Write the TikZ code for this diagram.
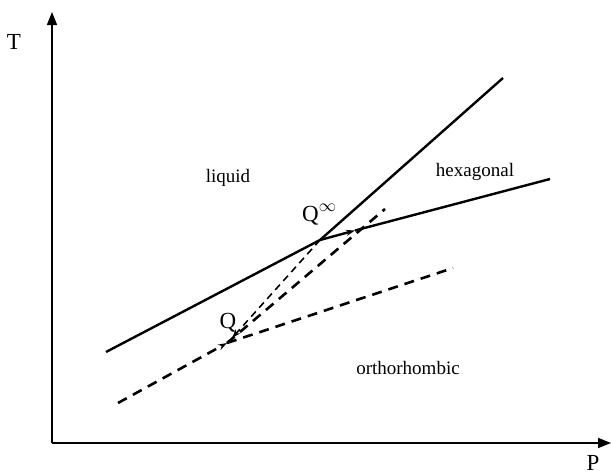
\documentclass[tikz,border=0pt]{standalone}
\usepackage{fontspec}
\setmainfont{Liberation Serif}
\usetikzlibrary{arrows.meta}
\begin{document}
\begin{tikzpicture}[x=1pt,y=-1pt,
  solidline/.style={line width=2.4pt},
  thickdash/.style={line width=2.6pt, dash pattern=on 10pt off 7pt},
  thindash/.style={line width=1.6pt, dash pattern=on 7pt off 5pt},
  axis/.style={line width=1.6pt,-{Triangle[length=13pt,width=10pt]}},
  lbl/.style={font=\fontsize{19}{22}\selectfont, inner sep=0pt},
  big/.style={font=\fontsize{23}{26}\selectfont, inner sep=0pt},
  smalltip/.style={-{Stealth[length=9pt,width=6pt]}}]
\useasboundingbox (0,0) rectangle (611,474);
% axes
\coordinate (O) at (52,443);
\coordinate (Ytop) at (52,12);
\coordinate (Xend) at (611,443);
\draw[axis] (O) -- (Ytop);
\draw[axis] (O) -- (Xend);
\node[big] (T) at (14,42) {T};
\node[big] (P) at (593,463) {P};
% key points
\coordinate (Qinf) at (320,240);
\coordinate (Q) at (227,343);
\coordinate (Lstart) at (106,352);
\coordinate (Steep) at (503,78);
\coordinate (H1) at (355,230.5);
\coordinate (Hend) at (550,179);
\coordinate (Dstart) at (118,403);
\coordinate (Dup) at (385,209);
\coordinate (Dright) at (453,268);
\coordinate (Tend) at (232,338);
% solid lines
\draw[solidline] (Lstart) -- (Qinf) -- (Steep);
\draw[solidline,smalltip] (Qinf) -- (H1);
\draw[solidline] (H1) -- (Hend);
% dashed lines
\draw[thickdash,smalltip] (Dstart) -- (Q);
\draw[thickdash] (Q) -- (Dup);
\draw[thickdash] (Q) -- (Dright);
\draw[thindash,smalltip] (Qinf) -- (Tend);
% labels
\node[lbl] (liquid) at (228,178) {liquid};
\node[lbl] (hex) at (475,172) {hexagonal};
\node[lbl] (ortho) at (408,368) {orthorhombic};
\node[big,anchor=base west] (Qinflbl) at (302,221) {Q$^{\infty}$};
\node[big] (Qlbl) at (228,323) {Q};
\end{tikzpicture}
\end{document}
